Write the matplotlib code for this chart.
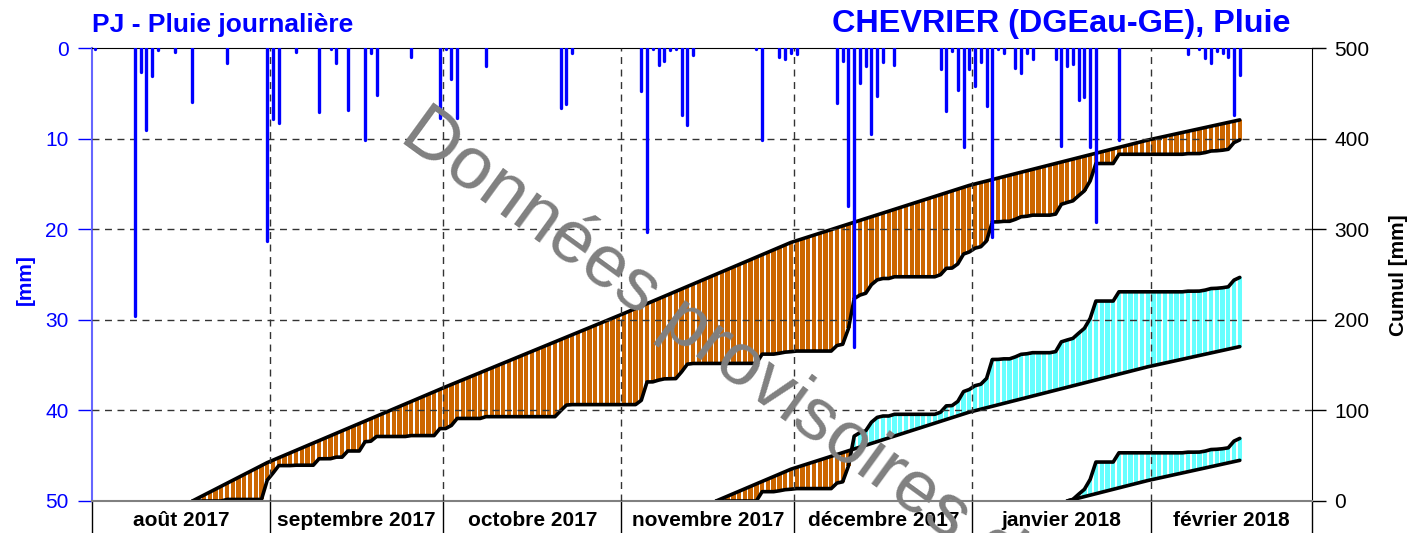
import numpy as np
import pandas as pd
import matplotlib
matplotlib.use("Agg")
import matplotlib.pyplot as plt
from matplotlib.ticker import FixedLocator, NullFormatter

# Données
ORIGINE = pd.Timestamp("2017-08-01")
FIN_AXE = pd.Timestamp("2018-03-01")

dates_pluie = [
    "2017-08-01", "2017-08-08", "2017-08-09", "2017-08-10", "2017-08-11", "2017-08-12",
    "2017-08-15", "2017-08-18", "2017-08-24", "2017-08-31",
    "2017-09-01", "2017-09-02", "2017-09-05", "2017-09-09", "2017-09-11", "2017-09-12",
    "2017-09-14", "2017-09-17", "2017-09-18", "2017-09-19", "2017-09-25", "2017-09-30",
    "2017-10-01", "2017-10-02", "2017-10-03", "2017-10-08", "2017-10-21", "2017-10-22",
    "2017-10-23",
    "2017-11-04", "2017-11-05", "2017-11-06", "2017-11-07", "2017-11-08", "2017-11-09",
    "2017-11-10", "2017-11-11", "2017-11-12", "2017-11-13", "2017-11-24", "2017-11-25",
    "2017-11-28", "2017-11-29", "2017-11-30",
    "2017-12-01", "2017-12-08", "2017-12-09", "2017-12-10", "2017-12-11", "2017-12-12",
    "2017-12-13", "2017-12-14", "2017-12-15", "2017-12-16", "2017-12-18", "2017-12-26",
    "2017-12-27", "2017-12-28", "2017-12-29", "2017-12-30", "2017-12-31",
    "2018-01-01", "2018-01-02", "2018-01-03", "2018-01-04", "2018-01-05", "2018-01-06",
    "2018-01-08", "2018-01-09", "2018-01-10", "2018-01-11", "2018-01-15", "2018-01-16",
    "2018-01-17", "2018-01-18", "2018-01-19", "2018-01-20", "2018-01-21", "2018-01-22",
    "2018-01-26",
    "2018-02-07", "2018-02-09", "2018-02-10", "2018-02-11", "2018-02-12", "2018-02-13",
    "2018-02-14", "2018-02-15", "2018-02-16",
]
pluie_mm = [
    0.1, 29.6, 2.6, 9.0, 3.1, 0.2,
    0.4, 6.0, 1.7, 21.3,
    7.8, 8.3, 0.4, 7.1, 0.1, 1.7,
    6.8, 10.2, 0.6, 5.2, 1.0, 7.7,
    0.1, 3.4, 7.7, 2.0, 6.6, 6.2,
    0.5,
    4.7, 20.3, 0.1, 1.9, 1.4, 0.2,
    0.1, 7.4, 8.5, 0.8, 0.1, 10.2,
    1.0, 1.2, 0.5,
    0.7, 6.1, 1.4, 17.4, 33.0, 3.9,
    2.0, 9.5, 5.3, 1.5, 1.9, 2.3,
    7.0, 0.3, 4.6, 10.9, 2.3,
    4.2, 1.6, 6.4, 20.9, 0.1, 0.6,
    2.2, 2.8, 0.6, 1.2, 1.2, 10.8,
    2.0, 1.8, 5.7, 5.4, 10.9, 19.2,
    10.2,
    0.7, 0.1, 1.1, 1.7, 0.3, 0.6,
    1.0, 7.4, 3.0,
]

mois = ["2017-08", "2017-09", "2017-10", "2017-11", "2017-12", "2018-01", "2018-02"]
libelles_mois = ["août 2017", "septembre 2017", "octobre 2017", "novembre 2017",
                 "décembre 2017", "janvier 2018", "février 2018"]
normale_mensuelle = [101, 81, 81, 81, 63, 50, 39]  # mm / mois

debuts_cumul = ["2017-08-18", "2017-11-17", "2018-01-17"]
fin_cumul = "2018-02-16"

ORANGE = "#cc6600"
CYAN = "#66ffff"
BLEU = "#0000ff"


def jour(d):
    return (pd.Timestamp(d) - ORIGINE).days


n_jours = (FIN_AXE - ORIGINE).days
pluie = np.zeros(n_jours)
for d, v in zip(dates_pluie, pluie_mm):
    pluie[jour(d)] = v

# normale journalière = normale du mois / nb de jours du mois
normale_jour = np.zeros(n_jours)
bornes = [jour(m + "-01") for m in mois] + [n_jours]
for i, tot in enumerate(normale_mensuelle):
    normale_jour[bornes[i]:bornes[i + 1]] = tot / (bornes[i + 1] - bornes[i])

DX = 0.45  # position du jour dans la case

fig = plt.figure(figsize=(14.08, 5.33), dpi=100)
plt.rcParams["font.family"] = ["Liberation Sans", "DejaVu Sans"]
ax = fig.add_axes([92 / 1408, 1 - 501 / 533, 1220 / 1408, 453 / 533])
ax2 = ax.twinx()
ax.set_zorder(2)
ax2.set_zorder(1)
ax.patch.set_visible(False)

# cumuls sur l'axe de droite
e = jour(fin_cumul)
for deb in debuts_cumul:
    s = jour(deb)
    jours = np.arange(s, e + 1)
    cum = np.concatenate([[0.0], np.cumsum(pluie[s + 1:e + 1])])
    nor = np.concatenate([[0.0], np.cumsum(normale_jour[s + 1:e + 1])])
    bas = np.minimum(cum, nor)
    haut = np.maximum(cum, nor)
    couleurs = [ORANGE if c < n else CYAN for c, n in zip(cum, nor)]
    ax2.bar(jours + DX, haut - bas, bottom=bas, width=0.75, color=couleurs,
            linewidth=0, zorder=1)
    ax2.plot(jours + DX, nor, color="black", lw=2.6, solid_joinstyle="round",
             solid_capstyle="round", zorder=3)
    ax2.plot(jours + DX, cum, color="black", lw=2.6, solid_joinstyle="round",
             solid_capstyle="round", zorder=3)
ax2.set_ylim(0, 500)
ax2.set_yticks(range(0, 501, 100))
ax2.tick_params(axis="y", length=10, width=1, labelsize=15, pad=6, colors="black")
for side in ["left", "top", "bottom"]:
    ax2.spines[side].set_visible(False)
ax2.spines["right"].set_color("black")

# pluie journalière sur l'axe de gauche (inversé)
x_p = np.array([jour(d) for d in dates_pluie]) + DX
ax.vlines(x_p, 0, pluie_mm, color=BLEU, lw=2.4, capstyle="round", zorder=4)
ax.set_ylim(50, 0)
ax.set_xlim(0, n_jours)
ax.set_yticks(range(0, 51, 10))
ax.tick_params(axis="y", colors=BLEU, labelcolor=BLEU, length=10, width=1,
               labelsize=15, pad=7)

# grille
for y in [10, 20, 30, 40]:
    ax.axhline(y, color="#333333", lw=1, ls=(0, (5, 4)), zorder=3)
for b in bornes[1:-1]:
    ax.axvline(b, color="#333333", lw=1, ls=(0, (5, 4)), zorder=3)

# mois en abscisse
centres = [(bornes[i] + bornes[i + 1]) / 2 for i in range(len(mois))]
ax.set_xticks(centres)
ax.set_xticklabels(libelles_mois, fontsize=15, fontweight="bold")
ax.xaxis.set_minor_locator(FixedLocator(bornes))
ax.xaxis.set_minor_formatter(NullFormatter())
ax.tick_params(axis="x", which="major", length=0, pad=7)
ax.tick_params(axis="x", which="minor", length=24, width=1, color="black")

ax.spines["left"].set_color("#6666ff")
ax.spines["left"].set_linewidth(1.5)
ax.spines["top"].set_color("black")
ax.spines["bottom"].set_color("#808080")
ax.spines["bottom"].set_linewidth(1.5)
ax.spines["right"].set_visible(False)

# textes
fig.text(92 / 1408, 1 - 32 / 533, "PJ - Pluie journalière", color=BLEU,
         fontsize=19, fontweight="bold", ha="left", va="baseline")
fig.text(1291 / 1408, 1 - 32 / 533, "CHEVRIER (DGEau-GE), Pluie", color=BLEU,
         fontsize=23.3, fontweight="bold", ha="right", va="baseline")
fig.text(25 / 1408, 1 - 280 / 533, "[mm]", color=BLEU, fontsize=15,
         fontweight="bold", rotation=90, ha="center", va="center")
fig.text(1399 / 1408, 1 - 275 / 533, "Cumul [mm]", color="black", fontsize=15,
         fontweight="bold", rotation=90, ha="center", va="center")
fig.text(398 / 1408, 1 - 140 / 533, "Données provisoires de", color="#808080",
         fontsize=54, rotation=-36, rotation_mode="anchor", ha="left",
         va="baseline", zorder=10)

fig.savefig("out.png", dpi=100, facecolor="white")
